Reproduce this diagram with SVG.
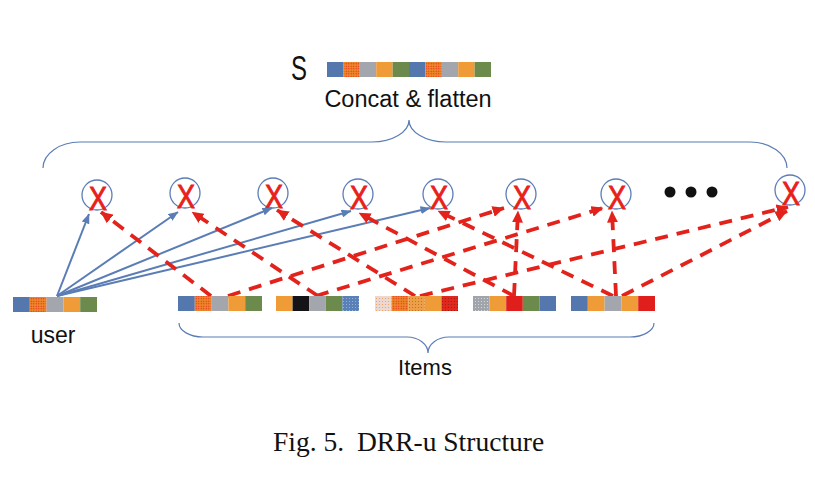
<svg xmlns="http://www.w3.org/2000/svg" width="815" height="477" viewBox="0 0 815 477">
<defs>
<style>
.b{fill:#5477ae}.g{fill:#a3a7ad}.o{fill:#ef9c38}.gr{fill:#6c8a4c}.k{fill:#141418}.r{fill:#e01f1c}
.od{fill:url(#pOD)}.bd{fill:url(#pBD)}.pd{fill:url(#pPD)}.od2{fill:url(#pOD2)}.rd{fill:url(#pRD)}.gd{fill:url(#pGD)}
.circ{fill:none;stroke:#5b7db6;stroke-width:1.3}
.x{font-family:"Liberation Sans",Arial,sans-serif;font-size:34px;fill:#e8201a;stroke:#e8201a;stroke-width:1}
.lbl{font-family:"Liberation Sans",Arial,sans-serif;fill:#111}
.brace{fill:none;stroke:#5b7db6;stroke-width:1.2}
.blue{fill:none;stroke:#5a7db6;stroke-width:2;marker-end:url(#ab)}
.red{fill:none;stroke:#e3231b;stroke-width:3.8;stroke-dasharray:13 9;marker-end:url(#ar)}
.cap{font-family:"Liberation Serif","Times New Roman",serif;font-size:27.5px;fill:#111}
</style>
<pattern id="pOD" patternUnits="userSpaceOnUse" width="2.5" height="2.5"><rect width="2.5" height="2.5" fill="#ee8a2c"/><circle cx="1.25" cy="1.25" r="0.7" fill="#e2281c"/></pattern>
<pattern id="pBD" patternUnits="userSpaceOnUse" width="3" height="3"><rect width="3" height="3" fill="#5a80b8"/><circle cx="1.5" cy="1.5" r="0.5" fill="#a9bedd"/></pattern>
<pattern id="pPD" patternUnits="userSpaceOnUse" width="3" height="3"><rect width="3" height="3" fill="#ecd8d0"/><circle cx="1.5" cy="1.5" r="0.6" fill="#ef9c50"/></pattern>
<pattern id="pOD2" patternUnits="userSpaceOnUse" width="3" height="3"><rect width="3" height="3" fill="#eba048"/><circle cx="1.5" cy="1.5" r="0.6" fill="#c8641e"/></pattern>
<pattern id="pRD" patternUnits="userSpaceOnUse" width="3" height="3"><rect width="3" height="3" fill="#e0281e"/><circle cx="1.5" cy="1.5" r="0.6" fill="#9a1c14"/></pattern>
<pattern id="pGD" patternUnits="userSpaceOnUse" width="3" height="3"><rect width="3" height="3" fill="#a0a5ab"/><circle cx="1.5" cy="1.5" r="0.5" fill="#e6e9ec"/></pattern>
<marker id="ar" viewBox="0 0 12 11" refX="11.5" refY="5.5" markerWidth="12" markerHeight="11" markerUnits="userSpaceOnUse" orient="auto"><path d="M0,0 L12,5.5 L0,11 z" fill="#e3231b"/></marker>
<marker id="ab" viewBox="0 0 10 8" refX="9.5" refY="4" markerWidth="10" markerHeight="8" markerUnits="userSpaceOnUse" orient="auto"><path d="M0,0 L10,4 L0,8 z" fill="#5a7db6"/></marker>
</defs>
<rect width="815" height="477" fill="#ffffff"/>

<g id="s-vector">
<text class="lbl" x="291" y="79.5" font-size="35" textLength="16" lengthAdjust="spacingAndGlyphs">S</text>
<rect class="b" x="327" y="62" width="16.4" height="15"/>
<rect class="od" x="343.4" y="62" width="16.4" height="15"/>
<rect class="g" x="359.8" y="62" width="16.4" height="15"/>
<rect class="o" x="376.2" y="62" width="16.4" height="15"/>
<rect class="gr" x="392.6" y="62" width="16.4" height="15"/>
<rect class="b" x="409" y="62" width="16.4" height="15"/>
<rect class="od" x="425.4" y="62" width="16.4" height="15"/>
<rect class="g" x="441.8" y="62" width="16.4" height="15"/>
<rect class="o" x="458.2" y="62" width="16.4" height="15"/>
<rect class="gr" x="474.6" y="62" width="16.4" height="15"/>
<text class="lbl" x="408" y="107" font-size="23.5" text-anchor="middle">Concat &amp; flatten</text>
</g>

<g id="top-brace">
<path class="brace" d="M43,168 C43,153.7 59.6,142 80,142 L372,142 C392.4,142 409,132.1 409,120 C409,132.1 425.6,142 446,142 L750,142 C770.4,142 787,153.7 787,168"/>
</g>

<g id="cross1"><circle class="circ" cx="97" cy="195" r="15"/><text class="x" x="98" y="210" text-anchor="middle" textLength="18" lengthAdjust="spacingAndGlyphs">X</text></g>
<g id="cross2"><circle class="circ" cx="185" cy="193" r="15"/><text class="x" x="186" y="208" text-anchor="middle" textLength="18" lengthAdjust="spacingAndGlyphs">X</text></g>
<g id="cross3"><circle class="circ" cx="273" cy="193" r="15"/><text class="x" x="274" y="208" text-anchor="middle" textLength="18" lengthAdjust="spacingAndGlyphs">X</text></g>
<g id="cross4"><circle class="circ" cx="358" cy="194" r="15"/><text class="x" x="359" y="209" text-anchor="middle" textLength="18" lengthAdjust="spacingAndGlyphs">X</text></g>
<g id="cross5"><circle class="circ" cx="438" cy="194" r="15"/><text class="x" x="439" y="209" text-anchor="middle" textLength="18" lengthAdjust="spacingAndGlyphs">X</text></g>
<g id="cross6"><circle class="circ" cx="521" cy="194" r="15"/><text class="x" x="522" y="209" text-anchor="middle" textLength="18" lengthAdjust="spacingAndGlyphs">X</text></g>
<g id="cross7"><circle class="circ" cx="616" cy="194" r="15"/><text class="x" x="617" y="209" text-anchor="middle" textLength="18" lengthAdjust="spacingAndGlyphs">X</text></g>
<g id="ellipsis"><circle cx="670" cy="192" r="5.5" fill="#111"/><circle cx="691" cy="192" r="5.5" fill="#111"/><circle cx="712" cy="192" r="5.5" fill="#111"/></g>
<g id="cross8"><circle class="circ" cx="790" cy="190" r="15"/><text class="x" x="791" y="205" text-anchor="middle" textLength="18" lengthAdjust="spacingAndGlyphs">X</text></g>

<g id="connectors">
<line class="blue" x1="57" y1="296" x2="89" y2="214"/>
<line class="blue" x1="57" y1="296" x2="178" y2="212"/>
<line class="blue" x1="57" y1="296" x2="272" y2="208"/>
<line class="blue" x1="57" y1="296" x2="351" y2="211"/>
<line class="blue" x1="57" y1="296" x2="430" y2="208"/>
<line class="red" x1="211" y1="296" x2="101" y2="212"/>
<line class="red" x1="318" y1="296" x2="192" y2="212"/>
<line class="red" x1="415" y1="296" x2="277" y2="210"/>
<line class="red" x1="514" y1="296" x2="359" y2="213"/>
<line class="red" x1="613" y1="296" x2="438" y2="211"/>
<line class="red" x1="228" y1="296" x2="504" y2="208"/>
<line class="red" x1="514" y1="296" x2="518" y2="211"/>
<line class="red" x1="316" y1="296" x2="603" y2="208"/>
<line class="red" x1="616" y1="296" x2="612" y2="211"/>
<line class="red" x1="420" y1="296" x2="788" y2="207"/>
<line class="red" x1="622" y1="296" x2="787" y2="211"/>
</g>

<g id="user">
<rect class="b" x="13" y="297" width="16.8" height="15"/>
<rect class="od" x="29.8" y="297" width="16.8" height="15"/>
<rect class="g" x="46.6" y="297" width="16.8" height="15"/>
<rect class="o" x="63.4" y="297" width="16.8" height="15"/>
<rect class="gr" x="80.2" y="297" width="16.8" height="15"/>
<text class="lbl" x="53" y="343" font-size="23" text-anchor="middle">user</text>
</g>

<g id="item1">
<rect class="b" x="178" y="296" width="16.8" height="15"/>
<rect class="od" x="194.8" y="296" width="16.8" height="15"/>
<rect class="g" x="211.6" y="296" width="16.8" height="15"/>
<rect class="o" x="228.4" y="296" width="16.8" height="15"/>
<rect class="gr" x="245.2" y="296" width="16.8" height="15"/>
</g>
<g id="item2">
<rect class="o" x="276" y="296" width="16.6" height="15"/>
<rect class="k" x="292.6" y="296" width="16.6" height="15"/>
<rect class="g" x="309.2" y="296" width="16.6" height="15"/>
<rect class="gr" x="325.8" y="296" width="16.6" height="15"/>
<rect class="bd" x="342.4" y="296" width="16.6" height="15"/>
</g>
<g id="item3">
<rect class="pd" x="375" y="296" width="16.6" height="15"/>
<rect class="od" x="391.6" y="296" width="16.6" height="15"/>
<rect class="od2" x="408.2" y="296" width="16.6" height="15"/>
<rect class="o" x="424.8" y="296" width="16.6" height="15"/>
<rect class="rd" x="441.4" y="296" width="16.6" height="15"/>
</g>
<g id="item4">
<rect class="gd" x="473" y="296" width="16.6" height="15"/>
<rect class="o" x="489.6" y="296" width="16.6" height="15"/>
<rect class="r" x="506.2" y="296" width="16.6" height="15"/>
<rect class="gr" x="522.8" y="296" width="16.6" height="15"/>
<rect class="b" x="539.4" y="296" width="16.6" height="15"/>
</g>
<g id="item5">
<rect class="b" x="571" y="296" width="16.8" height="15"/>
<rect class="o" x="587.8" y="296" width="16.8" height="15"/>
<rect class="g" x="604.6" y="296" width="16.8" height="15"/>
<rect class="o" x="621.4" y="296" width="16.8" height="15"/>
<rect class="r" x="638.2" y="296" width="16.8" height="15"/>
</g>

<g id="items-brace">
<path class="brace" d="M179,323 C179,330.7 189.8,337 203,337 L407,337 C418.6,337 428,344.2 428,353 C428,344.2 437.4,337 449,337 L630,337 C643.2,337 654,330.7 654,323"/>
<text class="lbl" x="425" y="375" font-size="22" text-anchor="middle">Items</text>
</g>

<g id="caption">
<text class="cap" x="273" y="451">Fig. 5.</text>
<text class="cap" x="357" y="451">DRR-u Structure</text>
</g>
</svg>
